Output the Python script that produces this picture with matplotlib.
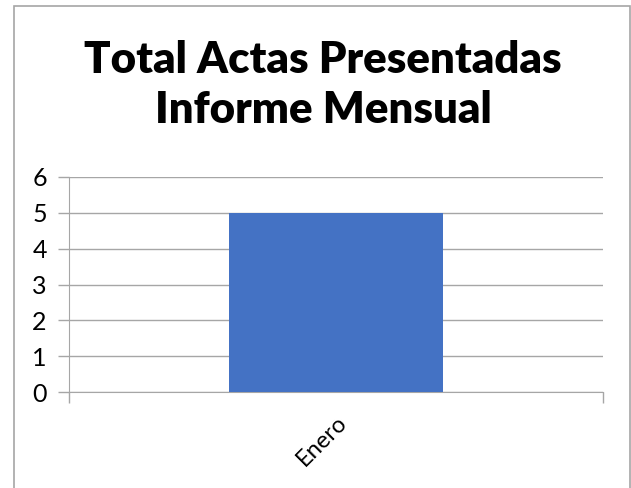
import matplotlib.pyplot as plt
from matplotlib.patches import Rectangle

# Data
months = ['Enero']
actas = [5]
y_ticks = [0, 1, 2, 3, 4, 5, 6]

plt.rcParams['font.family'] = ['Lato', 'DejaVu Sans']

fig = plt.figure(figsize=(6.31, 4.88), dpi=100)
W, H = 631, 488

# Axes placed in pixel coordinates of the reference
left, right, top, bottom = 69, 603, 177, 392
ax = fig.add_axes([left / W, 1 - bottom / H, (right - left) / W, (bottom - top) / H])

ax.bar(range(len(months)), actas, width=0.4, color='#4472C4', zorder=3)
ax.set_xlim(-0.5, len(months) - 0.5)
ax.set_ylim(0, 6)
ax.set_yticks(y_ticks)
ax.tick_params(axis='y', labelsize=18, length=8, width=1, color='#a6a6a6', pad=8)

# Category boundaries as x tick marks, labels at centres
ax.set_xticks([-0.5 + i for i in range(len(months) + 1)])
ax.set_xticklabels([])
ax.tick_params(axis='x', length=8, width=1, color='#a6a6a6')
ax.set_xticks(range(len(months)), minor=True)
ax.set_xticklabels(months, minor=True, rotation=45, ha='right', va='top',
                   rotation_mode='anchor', fontsize=17)
ax.tick_params(axis='x', which='minor', length=0, pad=14)

ax.grid(axis='y', color='#a6a6a6', linewidth=1, zorder=0)
for s in ['top', 'right']:
    ax.spines[s].set_visible(False)
ax.spines['left'].set_color('#a6a6a6')
ax.spines['bottom'].set_color('#a6a6a6')

fig.text(323 / W, 1 - 85 / H, 'Total Actas Presentadas\nInforme Mensual',
         ha='center', va='center', fontsize=31.5, fontweight='heavy',
         linespacing=1.32)

# Chart border (bottom edge lies outside the picture)
fig.patches.append(Rectangle((14 / W, -0.05), 1 - 15 / W, 1.05 - 6 / H,
                             transform=fig.transFigure, fill=False,
                             edgecolor='#a6a6a6', linewidth=1.2))

fig.savefig('out.png', dpi=100)
